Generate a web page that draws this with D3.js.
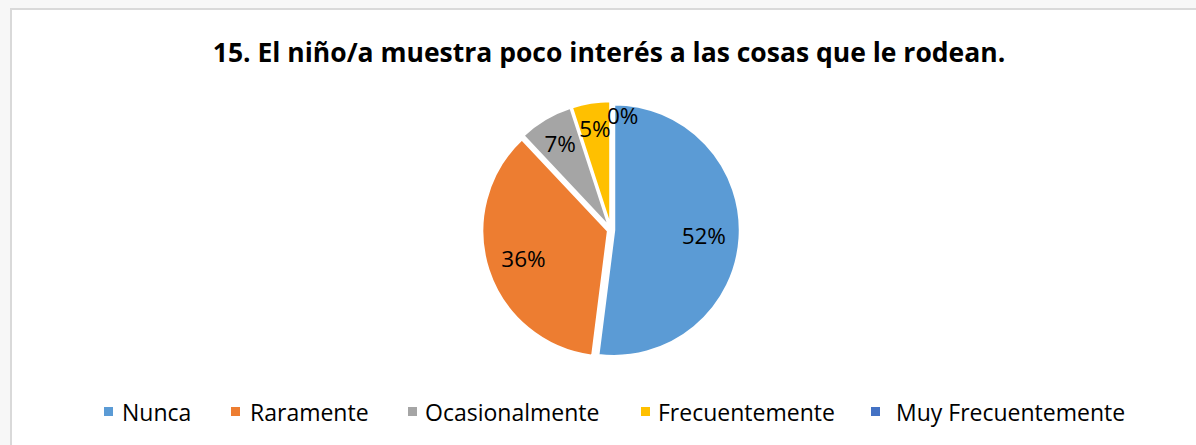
<!DOCTYPE html>
<html><head><meta charset="utf-8">
<script src="https://cdn.jsdelivr.net/npm/d3@7"></script>
<style>body{margin:0;background:#f7f7f7;}svg{display:block;}</style>
</head><body>
<svg id="chart" width="1196" height="445"></svg>
<script>
const title = "15. El niño/a muestra poco interés a las cosas que le rodean.";
const categories = ["Nunca", "Raramente", "Ocasionalmente", "Frecuentemente", "Muy Frecuentemente"];
const values = [52, 36, 7, 5, 0];
const colors = ["#5b9bd5", "#ed7d31", "#a5a5a5", "#ffc000", "#4472c4"];

const svg = d3.select("#chart");
const W = 1196, H = 445;
svg.append("rect").attr("x", 11).attr("y", 9).attr("width", W - 10).attr("height", H - 8)
  .attr("fill", "#ffffff").attr("stroke", "#d9d9d9").attr("stroke-width", 2);

svg.append("text").attr("x", 609).attr("y", 62).attr("text-anchor", "middle")
  .attr("font-family", "Open Sans").attr("font-weight", "bold").attr("font-size", 26.5)
  .attr("fill", "#000").text(title);

const cx = 611, cy = 230, R = 126, explode = 3;
const pie = d3.pie().sort(null).value(d => d);
const arcs = pie(values);
const arc = d3.arc().innerRadius(0).outerRadius(R);
const g = svg.append("g").attr("transform", `translate(${cx},${cy})`);

g.selectAll("path.slice").data(arcs).enter().append("path")
  .attr("class", "slice")
  .attr("d", arc)
  .attr("transform", d => {
    const a = (d.startAngle + d.endAngle) / 2;
    return `translate(${Math.sin(a) * explode},${-Math.cos(a) * explode})`;
  })
  .attr("fill", (d, i) => colors[i])
  .attr("stroke", "#fff").attr("stroke-width", 2.5).attr("stroke-linejoin", "round");

const total = d3.sum(values);
const labelR = [93, 92, 100, 103, 115];
g.selectAll("text.lbl").data(arcs).enter().append("text")
  .attr("class", "lbl")
  .attr("x", (d, i) => {
    const a = (d.startAngle + d.endAngle) / 2;
    return Math.sin(a) * labelR[i];
  })
  .attr("y", (d, i) => {
    const a = (d.startAngle + d.endAngle) / 2;
    return -Math.cos(a) * labelR[i];
  })
  .attr("dx", d => d.value === 0 ? -4 : 0)
  .attr("text-anchor", d => d.value === 0 ? "start" : "middle")
  .attr("dominant-baseline", "central")
  .attr("font-family", "Open Sans").attr("font-size", 22.5).attr("fill", "#000")
  .text(d => Math.round(d.value / total * 100) + "%");

// legend
const legendX = [104, 231, 408, 641, 871];
const legendTextX = [122, 250, 425, 658, 896];
const lg = svg.append("g");
categories.forEach((c, i) => {
  lg.append("rect").attr("x", legendX[i]).attr("y", 407).attr("width", 9).attr("height", 9).attr("fill", colors[i]);
  lg.append("text").attr("x", legendTextX[i]).attr("y", 412).attr("dominant-baseline", "central")
    .attr("font-family", "Open Sans").attr("font-size", 23).attr("fill", "#000").text(c);
});
</script>
</body></html>
